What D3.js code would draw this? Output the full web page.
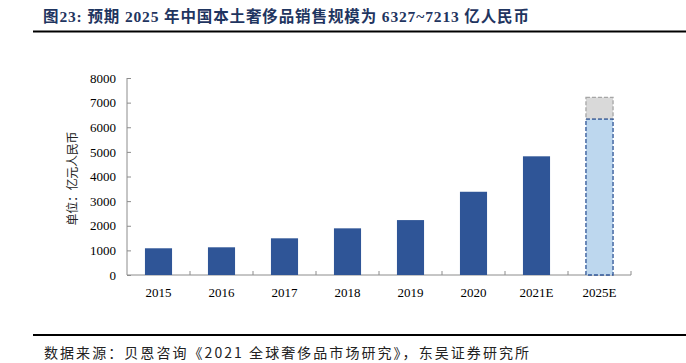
<!DOCTYPE html>
<html>
<head>
<meta charset="utf-8">
<script src="https://cdn.jsdelivr.net/npm/d3@7"></script>
<style>
  body { margin: 0; background: #fff; }
  svg { display: block; }
</style>
</head>
<body>
<div id="chart"></div>
<script>
// data
const years = ["2015", "2016", "2017", "2018", "2019", "2020", "2021E", "2025E"]
const sales = [1085, 1125, 1490, 1895, 2230, 3380, 4820, 6327]
const forecastHigh = 7213   // upper end of the 2025E range
const yTicks = [0, 1000, 2000, 3000, 4000, 5000, 6000, 7000, 8000]

const titleText = "图23:  预期 2025 年中国本土奢侈品销售规模为 6327~7213 亿人民币"
const unitText = "单位：亿元人民币"
const sourceText = "数据来源：贝恩咨询《2021 全球奢侈品市场研究》，东吴证券研究所"

const width = 686
const height = 363
const margin = { top: 78, right: 55, bottom: 88, left: 127 }

const svg = d3.select("#chart").append("svg")
  .attr("width", width)
  .attr("height", height)

const fontSerif = "'Liberation Serif', 'Noto Sans CJK SC', serif"

// title + rule
svg.append("text")
  .attr("x", 43)
  .attr("y", 22)
  .attr("textLength", 486)
  .attr("lengthAdjust", "spacing")
  .style("font-family", fontSerif)
  .style("font-size", "15.5px")
  .style("font-weight", "bold")
  .attr("fill", "#1f3560")
  .text(titleText)

svg.append("line")
  .attr("x1", 33).attr("x2", width)
  .attr("y1", 31.5).attr("y2", 31.5)
  .attr("stroke", "#000")
  .attr("stroke-width", 2)

const x = d3.scaleBand()
  .domain(years)
  .range([margin.left, width - margin.right])
  .paddingInner(0.57)
  .paddingOuter(0.285)

const xAxisScale = d3.scaleBand()
  .domain(years)
  .range([margin.left, width - margin.right])

const y = d3.scaleLinear()
  .domain([0, 8000])
  .range([height - margin.bottom, margin.top])

// y axis, ticks pointing inward
const yAxis = svg.append("g")
  .attr("transform", `translate(${margin.left},0)`)
  .call(d3.axisLeft(y).tickValues(yTicks).tickSize(-4).tickPadding(11).tickFormat(d3.format("d")))
yAxis.selectAll("text")
  .style("font-family", fontSerif)
  .style("font-size", "13px")
  .attr("fill", "#000")
yAxis.selectAll("line, path").attr("stroke", "#8c8c8c")
yAxis.select(".domain").attr("d", `M0,${y(8000)}V${y(0)}`)

// x axis, ticks pointing inward between categories
const xAxis = svg.append("g")
  .attr("transform", `translate(0,${y(0)})`)
  .call(d3.axisBottom(xAxisScale).tickSize(0).tickPadding(13))
xAxis.selectAll("text")
  .style("font-family", fontSerif)
  .style("font-size", "13px")
  .attr("fill", "#000")
xAxis.select(".domain").attr("stroke", "#8c8c8c")
  .attr("d", `M${margin.left},0H${width - margin.right}`)
xAxis.selectAll(".tickmark")
  .data(d3.range(1, years.length + 1))
  .join("line")
  .attr("x1", i => margin.left + i * xAxisScale.step())
  .attr("x2", i => margin.left + i * xAxisScale.step())
  .attr("y1", 0).attr("y2", -4)
  .attr("stroke", "#8c8c8c")

// unit label
svg.append("text")
  .attr("transform", `translate(77,${(y(0) + y(8000)) / 2 + 2}) rotate(-90)`)
  .attr("text-anchor", "middle")
  .attr("textLength", 94)
  .attr("lengthAdjust", "spacing")
  .style("font-family", "'Noto Sans CJK SC', sans-serif")
  .style("font-size", "12px")
  .attr("fill", "#222")
  .text(unitText)

// bars
const last = years.length - 1
svg.append("g")
  .selectAll("rect")
  .data(years.slice(0, last))
  .join("rect")
  .attr("x", d => x(d))
  .attr("width", x.bandwidth())
  .attr("y", (d, i) => y(sales[i]))
  .attr("height", (d, i) => y(0) - y(sales[i]))
  .attr("fill", "#2f5597")

// 2025E forecast: solid part + range on top, dashed outlines
svg.append("rect")
  .attr("x", x(years[last]))
  .attr("width", x.bandwidth())
  .attr("y", y(forecastHigh))
  .attr("height", y(sales[last]) - y(forecastHigh))
  .attr("fill", "#d9d9d9")
  .attr("stroke", "#a6a6a6")
  .attr("stroke-width", 1.3)
  .attr("stroke-dasharray", "4,2")

svg.append("rect")
  .attr("x", x(years[last]))
  .attr("width", x.bandwidth())
  .attr("y", y(sales[last]))
  .attr("height", y(0) - y(sales[last]))
  .attr("fill", "#bdd7ee")
  .attr("stroke", "#2f5597")
  .attr("stroke-width", 1.3)
  .attr("stroke-dasharray", "4,2")

// footer rule + source
svg.append("line")
  .attr("x1", 33).attr("x2", width)
  .attr("y1", 335).attr("y2", 335)
  .attr("stroke", "#000")
  .attr("stroke-width", 2)

svg.append("text")
  .attr("x", 44)
  .attr("y", 358)
  .attr("textLength", 485)
  .attr("lengthAdjust", "spacing")
  .style("font-family", "'Noto Sans CJK SC', sans-serif")
  .style("font-size", "14px")
  .attr("fill", "#222")
  .text(sourceText)
</script>
</body>
</html>
